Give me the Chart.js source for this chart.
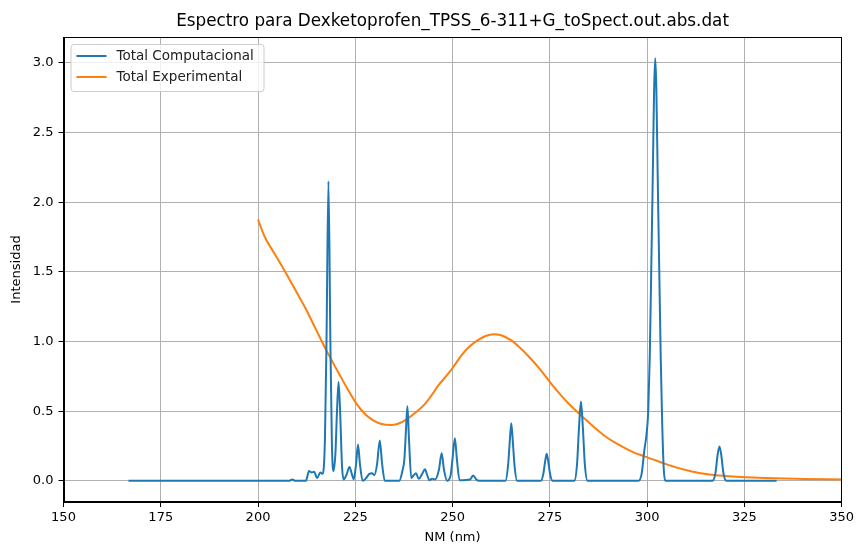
<!DOCTYPE html>
<html>
<head>
<meta charset="utf-8">
<script src="https://cdn.jsdelivr.net/npm/chart.js@4.4.0/dist/chart.umd.min.js"></script>
<style>
  html, body { margin:0; padding:0; background:#fff; }
  canvas { display:block; }
</style>
</head>
<body>
<canvas id="spectrum" width="857" height="548"></canvas>
<script>
const titleText = 'Espectro para Dexketoprofen_TPSS_6-311+G_toSpect.out.abs.dat';
const seriesNames = ['Total Computacional', 'Total Experimental'];
const xTitle = 'NM (nm)';
const yTitle = 'Intensidad';
const xTicks = [150, 175, 200, 225, 250, 275, 300, 325, 350];
const yTicks = [0, 0.5, 1.0, 1.5, 2.0, 2.5, 3.0];

// computed spectrum
const compX = [166.7, 208.0, 208.8, 209.6, 212.3, 213.1, 213.8, 214.4, 215.2, 216.0, 216.6, 217.2, 217.6, 218.1,
  218.6, 219.0, 219.4, 219.9, 220.3, 220.7, 221.1, 221.6, 222.0, 222.7, 223.5, 224.1, 224.6, 225.2, 225.7, 226.2,
  226.9, 227.8, 228.6, 229.3, 229.9, 230.6, 231.3, 231.9, 232.6, 236.3, 237.1, 237.6, 238.0, 238.4, 238.8, 239.4,
  240.0, 240.6, 241.3, 242.2, 242.9, 243.5, 244.0, 244.8, 245.5, 246.5, 247.2, 247.8, 248.6, 249.5, 250.0, 250.6,
  251.1, 251.8, 254.5, 255.3, 256.1, 256.8, 263.6, 264.3, 264.7, 265.1, 265.5, 265.9, 266.6, 272.7, 273.4, 273.8,
  274.2, 274.6, 275.0, 275.7, 281.3, 282.0, 282.5, 283.0, 283.5, 284.0, 284.7, 297.8, 298.6, 299.3, 299.8, 300.3,
  300.7, 301.3, 302.1, 302.9, 303.5, 303.9, 304.3, 304.7, 316.8, 317.6, 318.1, 318.6, 319.1, 319.6, 320.4, 333.3];
const compY = [0, 0, 0.01, 0, 0, 0.07, 0.06, 0.065, 0.02, 0.06, 0.05, 0.3, 1.0, 2.15,
  1.0, 0.25, 0.07, 0.2, 0.5, 0.71, 0.5, 0.1, 0.01, 0.04, 0.10, 0.05, 0.01, 0.12, 0.26, 0.12,
  0.0, 0.02, 0.05, 0.055, 0.04, 0.12, 0.29, 0.12, 0.0, 0.0, 0.07, 0.15, 0.35, 0.535, 0.3, 0.02,
  0.04, 0.055, 0.015, 0.05, 0.083, 0.04, 0.005, 0.015, 0.01, 0.08, 0.198, 0.08, 0.0, 0.04, 0.16, 0.306,
  0.16, 0.005, 0.01, 0.038, 0.01, 0.0, 0.0, 0.12, 0.28, 0.414, 0.28, 0.12, 0.0, 0.0, 0.06, 0.14,
  0.194, 0.14, 0.06, 0.0, 0.0, 0.12, 0.38, 0.569, 0.38, 0.12, 0.0, 0.0, 0.05, 0.22, 0.32, 0.5,
  0.9, 1.9, 3.034, 1.9, 0.9, 0.4, 0.08, 0.0, 0.0, 0.06, 0.18, 0.246, 0.18, 0.06, 0.0, 0.0];

// experimental spectrum
const expX = [200.0, 201.0, 202.1, 204.5, 207.2, 210.0, 212.4, 215.0, 217.5, 221.0, 223.0, 225.2, 227.5, 229.4,
  231.5, 234.2, 236.0, 238.0, 240.5, 243.1, 244.5, 246.5, 248.0, 250.0, 252.0, 254.2, 256.5, 258.5, 260.6,
  262.5, 265.0, 267.0, 270.0, 272.5, 275.6, 278.0, 280.0, 282.4, 285.0, 287.0, 289.3, 292.0, 296.1, 299.5,
  303.0, 307.0, 311.5, 316.0, 320.0, 328.6, 340.0, 350.0];
const expY = [1.877, 1.80, 1.73, 1.62, 1.49, 1.35, 1.228, 1.08, 0.94, 0.76, 0.66, 0.558, 0.48, 0.438,
  0.41, 0.400, 0.41, 0.438, 0.49, 0.558, 0.61, 0.69, 0.74, 0.81, 0.89, 0.96, 1.01, 1.04, 1.053,
  1.045, 1.01, 0.964, 0.88, 0.80, 0.689, 0.61, 0.55, 0.486, 0.42, 0.37, 0.318, 0.27, 0.21, 0.174,
  0.139, 0.10, 0.067, 0.045, 0.035, 0.022, 0.014, 0.01];

const FONT = 'DejaVu Sans';
const toPoints = (xs, ys) => xs.map((x, i) => ({ x: x, y: ys[i] }));

// title centred on the axes, black frame on all four sides, matplotlib style legend box
const framePlugin = {
  id: 'frame',
  afterDraw(chart) {
    const ctx = chart.ctx, a = chart.chartArea;
    ctx.save();
    ctx.fillStyle = '#000';
    ctx.font = '16.8px "' + FONT + '"';
    ctx.textAlign = 'center';
    ctx.textBaseline = 'middle';
    ctx.fillText(titleText, (a.left + a.right) / 2, 22);

    ctx.strokeStyle = '#000';
    ctx.lineWidth = 1;
    ctx.strokeRect(Math.round(a.left) + 0.5, Math.round(a.top) + 0.5,
      Math.round(a.right - a.left) - 1, Math.round(a.bottom - a.top) - 1);

    // legend
    const bx = a.left + 7, by = a.top + 7, bw = 193, bh = 47;
    ctx.beginPath();
    ctx.roundRect(bx + 0.5, by + 0.5, bw, bh, 3);
    ctx.fillStyle = 'rgba(255,255,255,0.8)';
    ctx.fill();
    ctx.strokeStyle = '#cccccc';
    ctx.stroke();
    ctx.font = '13.5px "' + FONT + '"';
    ctx.textAlign = 'left';
    chart.data.datasets.forEach((ds, i) => {
      const y = by + 12 + i * 21;
      ctx.beginPath();
      ctx.moveTo(bx + 6, y);
      ctx.lineTo(bx + 36, y);
      ctx.strokeStyle = ds.borderColor;
      ctx.lineWidth = 2;
      ctx.stroke();
      ctx.fillStyle = '#222';
      ctx.fillText(ds.label, bx + 46, y);
    });
    ctx.restore();
  }
};

new Chart(document.getElementById('spectrum'), {
  type: 'line',
  data: {
    datasets: [
      { label: seriesNames[0], data: toPoints(compX, compY), borderColor: '#1f77b4', borderWidth: 2,
        pointRadius: 0, cubicInterpolationMode: 'monotone', fill: false },
      { label: seriesNames[1], data: toPoints(expX, expY), borderColor: '#ff7f0e', borderWidth: 2,
        pointRadius: 0, cubicInterpolationMode: 'monotone', fill: false }
    ]
  },
  options: {
    responsive: false,
    animation: false,
    devicePixelRatio: 1,
    layout: { padding: { left: 0, right: 14, top: 37, bottom: 0 } },
    plugins: {
      legend: { display: false },
      tooltip: { enabled: false },
      title: { display: false }
    },
    scales: {
      x: {
        type: 'linear', min: 150, max: 350,
        afterBuildTicks: s => { s.ticks = xTicks.map(v => ({ value: v })); },
        afterFit: s => { s.height = 46; },
        grid: { color: '#b0b0b0', lineWidth: 1, tickLength: 5, tickColor: '#000' },
        border: { display: true, color: '#000' },
        ticks: { color: '#000', padding: 3, maxRotation: 0, font: { family: FONT, size: 13 } },
        title: { display: true, text: xTitle, color: '#000', font: { family: FONT, size: 13 },
          padding: { top: 0, bottom: 3 } }
      },
      y: {
        type: 'linear', min: -0.152, max: 3.186,
        afterBuildTicks: s => { s.ticks = yTicks.map(v => ({ value: v })); },
        afterFit: s => { s.width = 63.5; },
        grid: { color: '#b0b0b0', lineWidth: 1, tickLength: 5, tickColor: '#000' },
        border: { display: true, color: '#000' },
        ticks: { color: '#000', padding: 5, font: { family: FONT, size: 13 },
          callback: v => Number(v).toFixed(1) },
        title: { display: true, text: yTitle, color: '#000', font: { family: FONT, size: 13 },
          padding: { top: 9, bottom: 0 } }
      }
    }
  },
  plugins: [framePlugin]
});
</script>
</body>
</html>
